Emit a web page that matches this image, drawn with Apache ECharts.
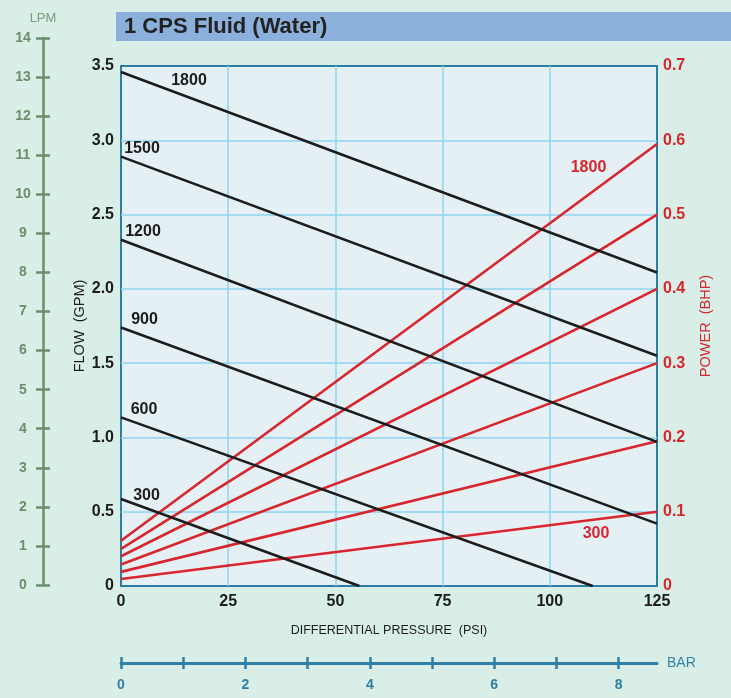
<!DOCTYPE html>
<html>
<head>
<meta charset="utf-8">
<script src="https://cdn.jsdelivr.net/npm/echarts@6/dist/echarts.min.js"></script>
<style>
  html, body { margin: 0; padding: 0; background: #d9eee7; }
  #chart { width: 731px; height: 698px; }
</style>
</head>
<body>
<div id="chart"></div>
<script>
// Pump speeds (RPM), one flow line and one power line per speed
const speeds = ['1800', '1500', '1200', '900', '600', '300'];

// Flow (GPM) against differential pressure (PSI): [psi, gpm]
const flow1800 = [[0, 3.46], [125, 2.11]];
const flow1500 = [[0, 2.89], [125, 1.55]];
const flow1200 = [[0, 2.33], [125, 0.97]];
const flow900  = [[0, 1.74], [125, 0.42]];
const flow600  = [[0, 1.135], [110, 0]];
const flow300  = [[0, 0.585], [55.6, 0]];

// Power (BHP) against differential pressure (PSI): [psi, bhp]
const power1800 = [[0, 0.061], [125, 0.595]];
const power1500 = [[0, 0.050], [125, 0.5]];
const power1200 = [[0, 0.040], [125, 0.4]];
const power900  = [[0, 0.029], [125, 0.3]];
const power600  = [[0, 0.019], [125, 0.195]];
const power300  = [[0, 0.0095], [125, 0.1]];

// Secondary scales
const barTicks  = [0, 1, 2, 3, 4, 5, 6, 7, 8];
const barLabels = [0, 2, 4, 6, 8];
const PSI_PER_BAR = 14.5038;

const flows  = [flow1800, flow1500, flow1200, flow900, flow600, flow300];
const powers = [power1800, power1500, power1200, power900, power600, power300];

// Speed label placement, in pixels from the line's first (flow) or last (power) point
const flowLabelOffset = [[68, 9], [21, -8.5], [22, -8], [23.5, -8], [23, -7.5], [25.5, -3]];
const powerLabelOffset = { '1800': [-68.5, 24], '300': [-61, 22] };

const SANS = '"Liberation Sans", Arial, Helvetica, sans-serif';
const RED = '#d7262e';
const INK = '#1c1c1c';
const BORDER = '#2b7ea3';
const GRID_LINE = '#8fd4f3';
const LPM_COLOR = '#6b8e6c';
const BAR_COLOR = '#2f7fa6';

const series = [];
flows.forEach((d, i) => {
  series.push({
    name: 'flow ' + speeds[i], type: 'line', xAxisIndex: 0, yAxisIndex: 0,
    data: d, symbol: 'none', silent: true, z: 3,
    lineStyle: { color: INK, width: 2.6 },
    markPoint: {
      symbol: 'circle', symbolSize: 0, silent: true,
      data: [{ coord: d[0], value: speeds[i] }],
      label: {
        show: true, position: 'inside', offset: flowLabelOffset[i],
        formatter: speeds[i], color: INK, fontFamily: SANS, fontWeight: 'bold', fontSize: 16
      }
    }
  });
});
powers.forEach((d, i) => {
  const s = {
    name: 'power ' + speeds[i], type: 'line', xAxisIndex: 0, yAxisIndex: 1,
    data: d, symbol: 'none', silent: true, z: 2,
    lineStyle: { color: RED, width: 2.6 }
  };
  const off = powerLabelOffset[speeds[i]];
  if (off) {
    s.markPoint = {
      symbol: 'circle', symbolSize: 0, silent: true,
      data: [{ coord: d[d.length - 1], value: speeds[i] }],
      label: {
        show: true, position: 'inside', offset: off,
        formatter: speeds[i], color: RED, fontFamily: SANS, fontWeight: 'bold', fontSize: 16
      }
    };
  }
  series.push(s);
});

const fmt1 = v => (v === 0 ? '0' : v.toFixed(1));
const innerGrid = { show: true, showMinLine: false, showMaxLine: false, lineStyle: { color: GRID_LINE, width: 1.5 } };

const option = {
  animation: false,
  backgroundColor: '#d9eee7',
  graphic: [
    { type: 'rect', shape: { x: 116, y: 12, width: 615, height: 29 }, style: { fill: '#8cb0dc' }, z: 1 },
    { type: 'text', left: 124, top: 16, z: 2,
      style: { text: '1 CPS Fluid (Water)', fill: '#222', font: 'bold 22px ' + SANS } }
  ],
  grid: [
    { left: 121, top: 66, width: 536, height: 520, show: true,
      backgroundColor: '#e4f0f4', borderColor: BORDER, borderWidth: 2 },
    { left: 43, top: 38, width: 1, height: 547 },
    { left: 121, top: 662, width: 536, height: 1 }
  ],
  xAxis: [
    { gridIndex: 0, type: 'value', min: 0, max: 125, interval: 25,
      axisLine: { show: false }, axisTick: { show: false },
      splitLine: innerGrid,
      axisLabel: { margin: 8, color: INK, fontFamily: SANS, fontWeight: 'bold', fontSize: 16 },
      name: 'DIFFERENTIAL PRESSURE  (PSI)', nameLocation: 'middle', nameGap: 38, nameMoveOverlap: false,
      nameTextStyle: { color: INK, fontFamily: SANS, fontSize: 12.5 } },
    { gridIndex: 1, type: 'value', show: false },
    { gridIndex: 2, type: 'value', min: 0, max: 125 / PSI_PER_BAR, position: 'bottom',
      axisLine: { show: true, lineStyle: { color: BAR_COLOR, width: 3 } },
      axisTick: { show: true, customValues: barTicks, length: 6, lineStyle: { color: BAR_COLOR, width: 2.5 } },
      axisLabel: { customValues: barLabels, margin: 15, color: BAR_COLOR, fontFamily: SANS, fontWeight: 'bold', fontSize: 14 },
      splitLine: { show: false },
      name: 'BAR', nameLocation: 'end', nameGap: 10,
      nameTextStyle: { color: BAR_COLOR, fontFamily: SANS, fontSize: 14 } },
    { gridIndex: 2, type: 'value', min: 0, max: 125 / PSI_PER_BAR, position: 'bottom',
      axisLine: { show: false },
      axisTick: { show: true, inside: true, customValues: barTicks, length: 6, lineStyle: { color: BAR_COLOR, width: 2.5 } },
      axisLabel: { show: false }, splitLine: { show: false } }
  ],
  yAxis: [
    { gridIndex: 0, type: 'value', min: 0, max: 3.5, interval: 0.5, position: 'left',
      axisLine: { show: false }, axisTick: { show: false },
      splitLine: innerGrid,
      axisLabel: { margin: 7, color: INK, fontFamily: SANS, fontWeight: 'bold', fontSize: 16, formatter: fmt1 },
      name: 'FLOW  (GPM)', nameLocation: 'middle', nameGap: 34, nameRotate: 90, nameMoveOverlap: false,
      nameTextStyle: { color: INK, fontFamily: SANS, fontSize: 14.5 } },
    { gridIndex: 0, type: 'value', min: 0, max: 0.7, interval: 0.1, position: 'right',
      axisLine: { show: false }, axisTick: { show: false }, splitLine: { show: false },
      axisLabel: { margin: 6, color: RED, fontFamily: SANS, fontWeight: 'bold', fontSize: 16, formatter: fmt1 },
      name: 'POWER  (BHP)', nameLocation: 'middle', nameGap: 41, nameRotate: 90, nameMoveOverlap: false,
      nameTextStyle: { color: RED, fontFamily: SANS, fontSize: 14.5 } },
    { gridIndex: 1, type: 'value', min: 0, max: 14, interval: 1, position: 'left',
      axisLine: { show: true, lineStyle: { color: LPM_COLOR, width: 2.5 } },
      axisTick: { show: true, length: 7, lineStyle: { color: LPM_COLOR, width: 2.5 } },
      axisLabel: { margin: 20, align: 'center', color: LPM_COLOR, fontFamily: SANS, fontWeight: 'bold', fontSize: 14 },
      splitLine: { show: false },
      name: 'LPM', nameLocation: 'end', nameGap: 13,
      nameTextStyle: { color: '#7c9c7e', fontFamily: SANS, fontSize: 13, align: 'center' } },
    { gridIndex: 1, type: 'value', min: 0, max: 14, interval: 1, position: 'left',
      axisLine: { show: false },
      axisTick: { show: true, inside: true, length: 7, lineStyle: { color: LPM_COLOR, width: 2.5 } },
      axisLabel: { show: false }, splitLine: { show: false } },
    { gridIndex: 2, type: 'value', show: false }
  ],
  series: series
};

const chart = echarts.init(document.getElementById('chart'), null, { renderer: 'canvas' });
chart.setOption(option);
</script>
</body>
</html>
